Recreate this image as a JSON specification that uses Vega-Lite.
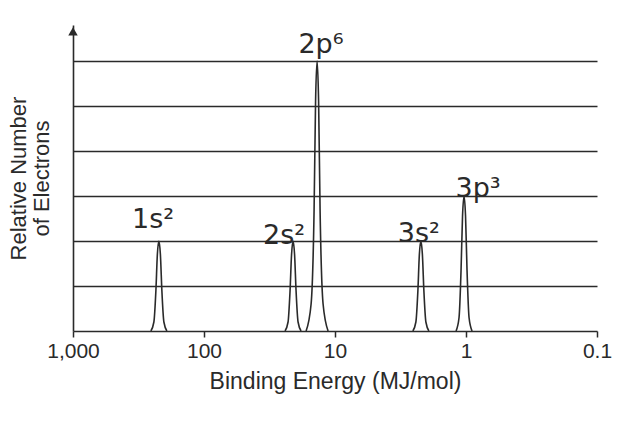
{
  "$schema": "https://vega.github.io/schema/vega-lite/v6.json",
  "width": 524,
  "height": 306,
  "autosize": {"type": "none"},
  "padding": {"left": 73, "top": 25, "right": 25, "bottom": 92},
  "background": "white",
  "config": {
    "view": {"stroke": null},
    "font": "Liberation Sans"
  },
  "datasets": {
    "peaks": [
      {"peak": "1s", "energy": 254.4, "count": 0},
      {"peak": "1s", "energy": 241.3, "count": 0.2},
      {"peak": "1s", "energy": 232.9, "count": 0.9},
      {"peak": "1s", "energy": 227.0, "count": 1.7},
      {"peak": "1s", "energy": 221.0, "count": 2},
      {"peak": "1s", "energy": 215.2, "count": 1.7},
      {"peak": "1s", "energy": 209.7, "count": 0.9},
      {"peak": "1s", "energy": 202.4, "count": 0.2},
      {"peak": "1s", "energy": 192.0, "count": 0},
      {"peak": "2s", "energy": 24.06, "count": 0},
      {"peak": "2s", "energy": 22.82, "count": 0.2},
      {"peak": "2s", "energy": 22.03, "count": 0.9},
      {"peak": "2s", "energy": 21.46, "count": 1.7},
      {"peak": "2s", "energy": 20.9, "count": 2},
      {"peak": "2s", "energy": 20.35, "count": 1.7},
      {"peak": "2s", "energy": 19.83, "count": 0.9},
      {"peak": "2s", "energy": 19.14, "count": 0.2},
      {"peak": "2s", "energy": 18.16, "count": 0},
      {"peak": "2p", "energy": 16.62, "count": 0},
      {"peak": "2p", "energy": 15.22, "count": 0.6},
      {"peak": "2p", "energy": 14.44, "count": 2.7},
      {"peak": "2p", "energy": 14.07, "count": 5.1},
      {"peak": "2p", "energy": 13.7, "count": 6},
      {"peak": "2p", "energy": 13.34, "count": 5.1},
      {"peak": "2p", "energy": 13.0, "count": 2.7},
      {"peak": "2p", "energy": 12.33, "count": 0.6},
      {"peak": "2p", "energy": 11.29, "count": 0},
      {"peak": "3s", "energy": 2.544, "count": 0},
      {"peak": "3s", "energy": 2.413, "count": 0.2},
      {"peak": "3s", "energy": 2.329, "count": 0.9},
      {"peak": "3s", "energy": 2.27, "count": 1.7},
      {"peak": "3s", "energy": 2.21, "count": 2},
      {"peak": "3s", "energy": 2.152, "count": 1.7},
      {"peak": "3s", "energy": 2.097, "count": 0.9},
      {"peak": "3s", "energy": 2.024, "count": 0.2},
      {"peak": "3s", "energy": 1.92, "count": 0},
      {"peak": "3p", "energy": 1.191, "count": 0},
      {"peak": "3p", "energy": 1.13, "count": 0.3},
      {"peak": "3p", "energy": 1.091, "count": 1.35},
      {"peak": "3p", "energy": 1.063, "count": 2.55},
      {"peak": "3p", "energy": 1.035, "count": 3},
      {"peak": "3p", "energy": 1.008, "count": 2.55},
      {"peak": "3p", "energy": 0.982, "count": 1.35},
      {"peak": "3p", "energy": 0.948, "count": 0.3},
      {"peak": "3p", "energy": 0.899, "count": 0}
    ],
    "labels": [
      {"label": "1s²", "energy": 245, "count": 2.29},
      {"label": "2s²", "energy": 24.5, "count": 1.93},
      {"label": "2p⁶", "energy": 12.8, "count": 6.18},
      {"label": "3s²", "energy": 2.29, "count": 1.98},
      {"label": "3p³", "energy": 0.809, "count": 2.98}
    ],
    "arrow": [
      {"energy": 1000, "count": 6.66}
    ]
  },
  "layer": [
    {
      "data": {"name": "peaks"},
      "mark": {"type": "line", "interpolate": "monotone", "color": "#2a2a2a", "strokeWidth": 1.6},
      "encoding": {
        "x": {
          "field": "energy",
          "type": "quantitative",
          "scale": {"type": "log", "domain": [0.1, 1000], "reverse": true, "nice": false},
          "axis": {
            "values": [1000, 100, 10, 1, 0.1],
            "labelExpr": "datum.value >= 1000 ? '1,000' : datum.value < 1 ? '0.1' : format(datum.value, 'd')",
            "title": "Binding Energy (MJ/mol)",
            "titleFont": "Liberation Sans",
            "titleFontSize": 23,
            "titleFontWeight": "normal",
            "titleColor": "#2a2a2a",
            "titlePadding": 9,
            "labelFont": "Liberation Sans",
            "labelFontSize": 21,
            "labelColor": "#2a2a2a",
            "labelPadding": 3,
            "labelFlush": false,
            "labelOverlap": false,
            "tickSize": 6,
            "tickColor": "#2a2a2a",
            "tickWidth": 1.5,
            "domainColor": "#2a2a2a",
            "domainWidth": 1.6,
            "grid": false
          }
        },
        "y": {
          "field": "count",
          "type": "quantitative",
          "scale": {"domain": [0, 6.8], "nice": false, "zero": true},
          "axis": {
            "values": [1, 2, 3, 4, 5, 6],
            "labels": false,
            "ticks": false,
            "grid": true,
            "gridColor": "#2a2a2a",
            "gridWidth": 1.6,
            "gridOpacity": 1,
            "domainColor": "#2a2a2a",
            "domainWidth": 1.6,
            "title": ["Relative Number", "of Electrons"],
            "titleFont": "Liberation Sans",
            "titleFontSize": 22,
            "titleFontWeight": "normal",
            "titleColor": "#2a2a2a",
            "titleLineHeight": 23,
            "titlePadding": 20
          }
        },
        "detail": {"field": "peak", "type": "nominal"}
      }
    },
    {
      "data": {"name": "labels"},
      "mark": {"type": "text", "font": "DejaVu Sans", "fontSize": 27, "color": "#2a2a2a", "align": "center", "baseline": "alphabetic"},
      "encoding": {
        "x": {"field": "energy", "type": "quantitative"},
        "y": {"field": "count", "type": "quantitative"},
        "text": {"field": "label", "type": "nominal"}
      }
    },
    {
      "data": {"name": "arrow"},
      "mark": {"type": "point", "shape": "triangle-up", "size": 90, "filled": true, "color": "#2a2a2a", "opacity": 1, "strokeWidth": 0},
      "encoding": {
        "x": {"field": "energy", "type": "quantitative"},
        "y": {"field": "count", "type": "quantitative"}
      }
    }
  ]
}
